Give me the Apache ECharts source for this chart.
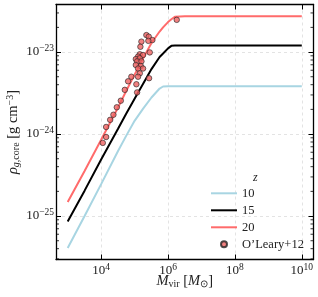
<!DOCTYPE html>
<html><head><meta charset="utf-8">
<script src="https://cdn.jsdelivr.net/npm/echarts@6/dist/echarts.min.js"></script>
<style>html,body{margin:0;padding:0;background:#fff}#c{width:318px;height:297px}</style>
</head><body><div id="c"></div>
<script>
// ---- data (M_vir in solar masses, rho in g cm^-3) ----
const massGrid = [1e3, 3.2e3, 1e4, 3.2e4, 5.6e4, 1e5, 1.8e5, 3.2e5, 5.6e5, 7.1e5, 1e6, 1.26e6, 1.6e6, 3.2e6, 1e7, 1e8, 1e9, 1e10];
const rhoZ10 = [4.07e-26, 1.0e-25, 2.45e-25, 6.2e-25, 9.5e-25, 1.45e-24, 2.04e-24, 2.79e-24, 3.59e-24, 3.80e-24, 3.84e-24, 3.84e-24, 3.84e-24, 3.84e-24, 3.84e-24, 3.84e-24, 3.84e-24, 3.84e-24];
const rhoZ15 = [8.6e-26, 2.04e-25, 4.9e-25, 1.16e-24, 1.77e-24, 2.7e-24, 4.1e-24, 6.2e-24, 8.7e-24, 9.6e-24, 1.11e-23, 1.19e-23, 1.20e-23, 1.20e-23, 1.20e-23, 1.20e-23, 1.20e-23, 1.20e-23];
const rhoZ20 = [1.48e-25, 3.55e-25, 8.5e-25, 2.11e-24, 3.35e-24, 5.3e-24, 8.4e-24, 1.29e-23, 1.78e-23, 2.0e-23, 2.32e-23, 2.51e-23, 2.69e-23, 2.73e-23, 2.73e-23, 2.73e-23, 2.73e-23, 2.73e-23];
const olearyMass = [2.25e5, 2.65e5, 3.40e5, 1.60e5, 2.58e5, 1.49e5, 2.84e5, 1.43e5, 1.79e5, 1.27e5, 1.09e5, 1.43e5, 1.19e5, 1.60e5, 1.09e5, 1.53e5, 1.27e5, 1.79e5, 1.43e5, 1.27e5, 2.71e5, 8.0e4, 6.4e4, 1.13e5, 5.1e4, 1.19e5, 3.87e4, 2.94e4, 2.33e4, 1.86e4, 1.41e4, 1.41e4, 1.12e4, 1.82e6];
const olearyRho = [1.61e-23, 1.54e-23, 1.40e-23, 1.34e-23, 1.37e-23, 1.16e-23, 9.9e-24, 9.4e-24, 9.2e-24, 8.8e-24, 8.2e-24, 8.4e-24, 7.7e-24, 7.7e-24, 6.95e-24, 6.76e-24, 6.3e-24, 6.3e-24, 5.5e-24, 5.0e-24, 4.8e-24, 5.0e-24, 4.4e-24, 4.05e-24, 3.46e-24, 3.22e-24, 2.55e-24, 2.12e-24, 1.72e-24, 1.49e-24, 1.22e-24, 9.2e-25, 7.8e-25, 2.47e-23];
const xTickExponents = [4, 6, 8, 10];
const yTickExponents = [-25, -24, -23];
const yMinorTicks = [3e-26,4e-26,5e-26,6e-26,7e-26,8e-26,9e-26,2e-25,3e-25,4e-25,5e-25,6e-25,7e-25,8e-25,9e-25,2e-24,3e-24,4e-24,5e-24,6e-24,7e-24,8e-24,9e-24,2e-23,3e-23];
const xLimitsLog = [2.65, 10.35];
const yLimitsLog = [-25.53, -22.42];
const seriesNames = ['10', '15', '20', 'O\u2019Leary+12'];
const legendTitle = 'z';

// ---- build ----
const F = 'Liberation Serif';
const L = Math.log10;
const pair = (xs, ys) => xs.map((x, i) => [L(x), L(ys[i])]);
const isTick = (v, arr) => arr.some(e => Math.abs(v - e) < 1e-6);
const fmtExp = e => '{a|10}{s|' + String(e).replace('-', '\u2212') + '}';
const labRich = {
  a: {fontSize: 13, fontFamily: F, color: '#222', lineHeight: 17},
  s: {fontSize: 9.5, fontFamily: F, color: '#222', verticalAlign: 'top', lineHeight: 9}
};
const spine = {show: true, onZero: false, lineStyle: {color: '#000', width: 1.3}};
const tick = {show: true, inside: true, length: 5, lineStyle: {color: '#000', width: 1}};
const grid = {show: true, lineStyle: {color: '#dcdcdc', width: 0.8, type: [3, 3]}};
const nameRich = {
  i: {fontSize: 14.5, fontFamily: F, fontStyle: 'italic', color: '#222', lineHeight: 16},
  t: {fontSize: 14.5, fontFamily: F, color: '#222', lineHeight: 16},
  sub: {fontSize: 10, fontFamily: F, fontStyle: 'italic', color: '#222', verticalAlign: 'bottom', lineHeight: 13},
  subr: {fontSize: 10, fontFamily: F, color: '#222', verticalAlign: 'bottom', lineHeight: 13},
  sup: {fontSize: 10, fontFamily: F, color: '#222', verticalAlign: 'top', lineHeight: 9}
};

const minorLeft = yMinorTicks.map(v => [xLimitsLog[0], L(v)]);
const minorRight = yMinorTicks.map(v => [xLimitsLog[1], L(v)]);
const hidden = {color: 'transparent', borderColor: 'transparent', opacity: 0};

const option = {
  animation: false,
  backgroundColor: '#fff',
  title: {text: legendTitle, left: 253, top: 172, padding: 0,
    textStyle: {fontFamily: F, fontStyle: 'italic', fontWeight: 'normal', fontSize: 12, color: '#222'}},
  legend: {
    orient: 'vertical', left: 210, top: 186.3, padding: 0,
    itemWidth: 26, itemHeight: 6, itemGap: 3, selectedMode: false,
    data: [
      {name: seriesNames[0], itemStyle: hidden},
      {name: seriesNames[1], itemStyle: hidden},
      {name: seriesNames[2], itemStyle: hidden},
      {name: seriesNames[3]}
    ],
    textStyle: {fontFamily: F, fontSize: 12.5, color: '#222', lineHeight: 14}
  },
  grid: {left: 56, right: 4.5, top: 4.5, bottom: 37.5, containLabel: false, outerBoundsMode: 'none'},
  xAxis: [{
    type: 'value', position: 'bottom', min: xLimitsLog[0], max: xLimitsLog[1], splitNumber: 4,
    axisLine: spine, axisTick: tick, splitLine: grid,
    axisLabel: {margin: 3, rich: labRich, formatter: v => isTick(v, xTickExponents) ? fmtExp(Math.round(v)) : ''},
    name: '{i|M}{subr|vir}{t| [}{i|M}{subr|\u2299}{t|]}', nameLocation: 'middle', nameGap: 14,
    nameMoveOverlap: false,
    nameTextStyle: {rich: nameRich}
  }, {
    type: 'value', position: 'top', min: xLimitsLog[0], max: xLimitsLog[1], splitNumber: 4,
    axisLine: spine, axisTick: tick, splitLine: {show: false}, axisLabel: {show: false}
  }],
  yAxis: [{
    type: 'value', position: 'left', min: yLimitsLog[0], max: yLimitsLog[1], splitNumber: 3,
    axisLine: spine, axisTick: tick, splitLine: grid,
    axisLabel: {margin: 2, rich: labRich, formatter: v => isTick(v, yTickExponents) ? fmtExp(Math.round(v)) : ''},
    name: '{i|\u03c1}{sub|g,}{subr|core}{t| [g cm}{sup|\u22123}{t|]}', nameLocation: 'middle', nameGap: 35,
    nameMoveOverlap: false,
    nameTextStyle: {rich: nameRich}
  }, {
    type: 'value', position: 'right', min: yLimitsLog[0], max: yLimitsLog[1], splitNumber: 3,
    axisLine: spine, axisTick: tick, splitLine: {show: false}, axisLabel: {show: false}
  }],
  series: [
    {name: seriesNames[0], type: 'line', data: pair(massGrid, rhoZ10), showSymbol: false, symbol: 'none',
      lineStyle: {color: '#a8d5e2', width: 2}, itemStyle: {color: '#a8d5e2'}, z: 2},
    {name: seriesNames[1], type: 'line', data: pair(massGrid, rhoZ15), showSymbol: false, symbol: 'none',
      lineStyle: {color: '#000', width: 2}, itemStyle: {color: '#000'}, z: 2},
    {name: seriesNames[2], type: 'line', data: pair(massGrid, rhoZ20), showSymbol: false, symbol: 'none',
      lineStyle: {color: '#ff6b6b', width: 2}, itemStyle: {color: '#ff6b6b'}, z: 2},
    {name: seriesNames[3], type: 'scatter', data: pair(olearyMass, olearyRho), symbol: 'circle', symbolSize: 5.5,
      itemStyle: {color: '#ee6060', borderColor: '#222', borderWidth: 0.8}, z: 3},
    {type: 'scatter', data: minorLeft, symbol: 'rect', symbolSize: [3, 1], symbolOffset: [1.5, 0],
      itemStyle: {color: '#000'}, silent: true, clip: false, z: 4},
    {type: 'scatter', data: minorRight, symbol: 'rect', symbolSize: [3, 1], symbolOffset: [-1.5, 0],
      itemStyle: {color: '#000'}, silent: true, clip: false, z: 4}
  ]
};
const chart = echarts.init(document.getElementById('c'), null, {renderer: 'canvas'});
chart.setOption(option);
</script></body></html>
